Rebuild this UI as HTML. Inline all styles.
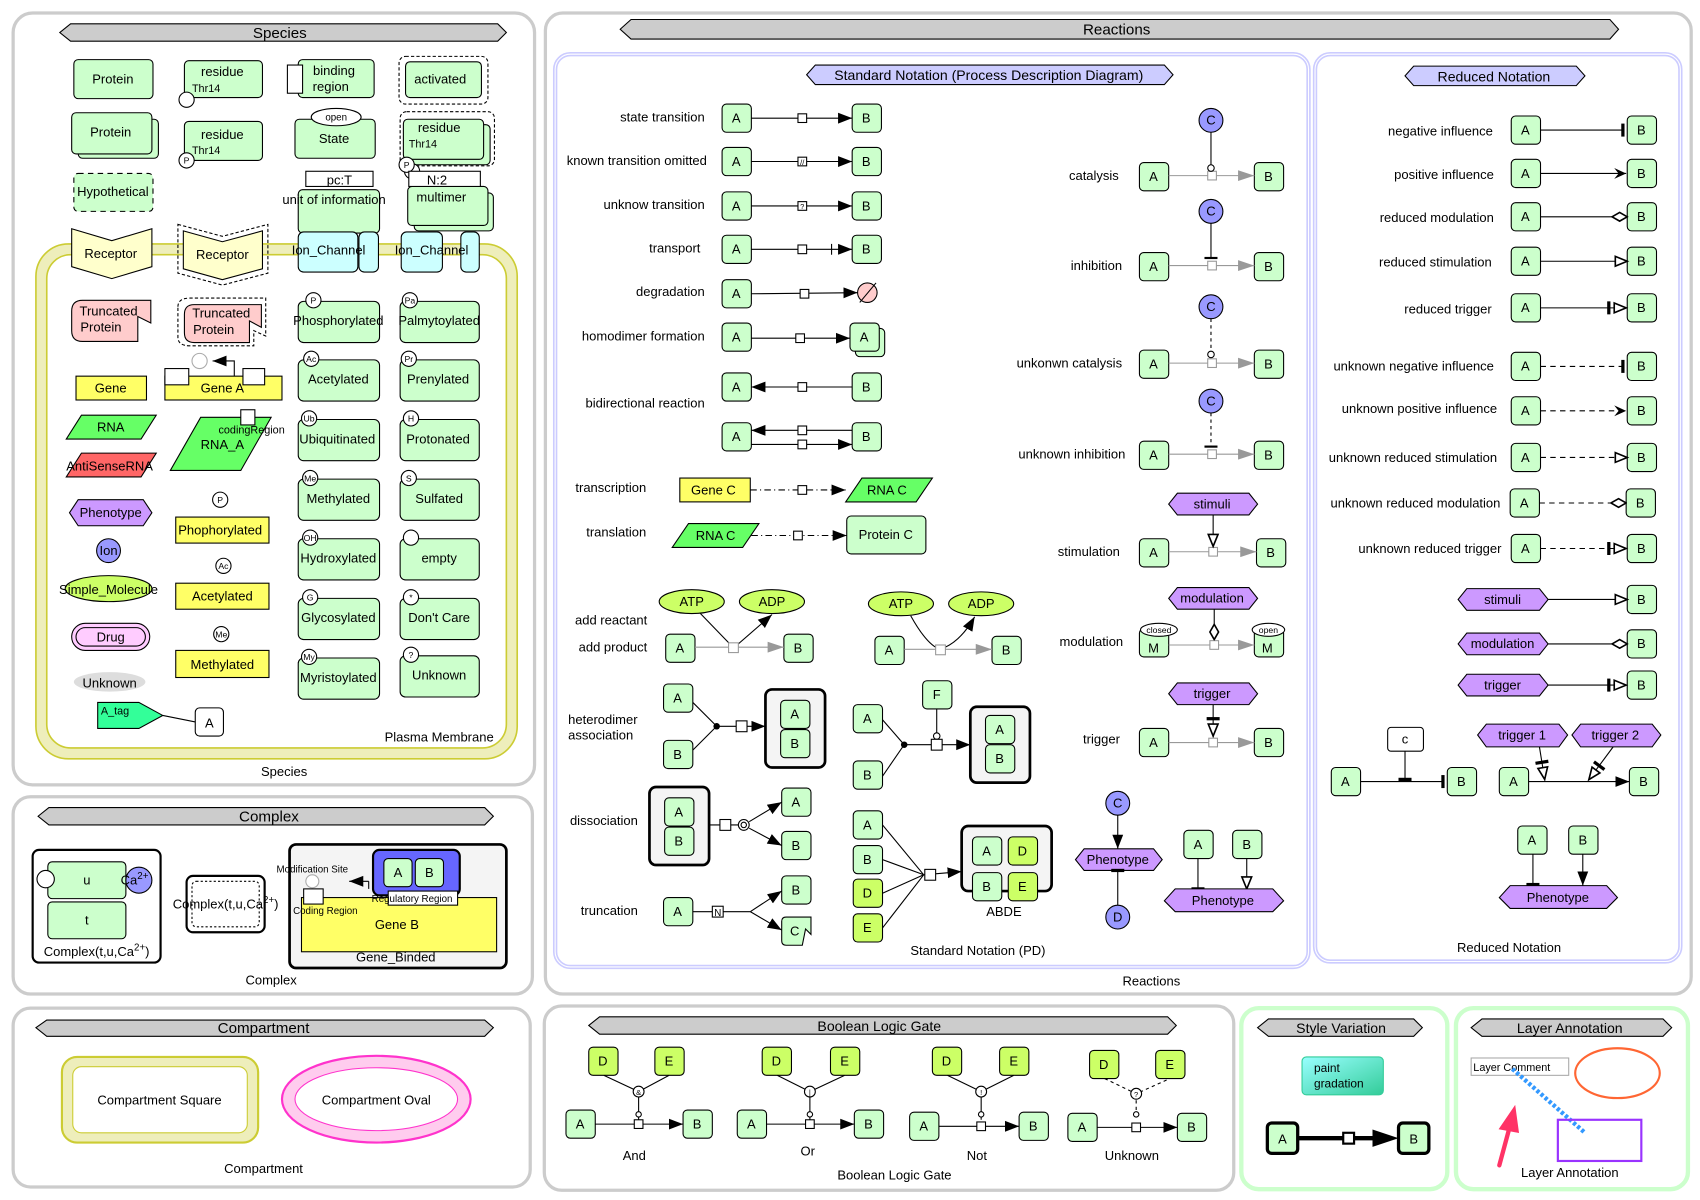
<!DOCTYPE html>
<html><head><meta charset="utf-8"><style>
html,body{margin:0;padding:0;background:#fff;}
svg{display:block;font-family:"Liberation Sans",sans-serif;}
text{font-size:12px;text-anchor:middle;fill:#000;}
.r{text-anchor:end;}
.s{font-size:10px;}
.n{fill:#ccffcc;stroke:#000;stroke-width:1;}
.y{fill:#ffff66;stroke:#000;}
.l{fill:#ccff66;stroke:#000;}
.p{fill:#cc99ff;stroke:#000;}
.c{fill:#9999ff;stroke:#000;}
.w{fill:#fff;stroke:#000;}
.ln{stroke:#000;fill:none;}
.gl{stroke:#999;fill:none;}
.ban{fill:#cccccc;stroke:#000;}
.bb{fill:#ccccff;stroke:#000;}
.pan{fill:#fff;stroke:#ccc;stroke-width:3;}
.cx{fill:#f4f4f4;stroke:#000;stroke-width:2.5;}
.d{stroke-dasharray:5,4;}
</style></head><body>
<svg width="1700" height="1200" viewBox="0 0 1568 1107" xmlns="http://www.w3.org/2000/svg">
<defs>
<marker id="a" markerUnits="userSpaceOnUse" markerWidth="14" markerHeight="12" refX="13" refY="6" orient="auto"><path d="M0,1 L13,6 L0,11 Z" fill="#000"/></marker>
<marker id="ga" markerUnits="userSpaceOnUse" markerWidth="16" markerHeight="12" refX="15" refY="6" orient="auto"><path d="M0,1 L15,6 L0,11 Z" fill="#999"/></marker>
<marker id="o" markerUnits="userSpaceOnUse" markerWidth="14" markerHeight="12" refX="12" refY="6" orient="auto"><path d="M1,1.5 L12,6 L1,10.5 Z" fill="#fff" stroke="#000" stroke-width="1.5"/></marker>
<marker id="b" markerUnits="userSpaceOnUse" markerWidth="6" markerHeight="14" refX="3" refY="7" orient="auto"><path d="M3,1 L3,13" stroke="#000" stroke-width="3"/></marker>
<marker id="dm" markerUnits="userSpaceOnUse" markerWidth="16" markerHeight="12" refX="15" refY="6" orient="auto"><path d="M1,6 L8,2 L15,6 L8,10 Z" fill="#fff" stroke="#000" stroke-width="1.5"/></marker>
<marker id="t" markerUnits="userSpaceOnUse" markerWidth="20" markerHeight="14" refX="19" refY="7" orient="auto"><path d="M2,1 L2,13" stroke="#000" stroke-width="3"/><path d="M7,2.5 L18,7 L7,11.5 Z" fill="#fff" stroke="#000" stroke-width="1.5"/></marker>
<marker id="v" markerUnits="userSpaceOnUse" markerWidth="14" markerHeight="14" refX="13" refY="7" orient="auto"><path d="M2,2 L13,7 L2,12 L6,7 Z" fill="#000"/></marker>
<linearGradient id="gr" x1="0" y1="0" x2="1" y2="1"><stop offset="0" stop-color="#99ffff"/><stop offset="1" stop-color="#33cc99"/></linearGradient>
</defs>

<!-- ================= SPECIES ================= -->
<rect class="pan" x="12" y="12" width="481" height="712" rx="18"/>
<path class="ban" d="M55,30 L65,22 L459,22 L467,30 L459,38 L65,38 Z"/><text x="258" y="35" style="font-size:14px">Species</text>
<text x="262" y="716">Species</text>

<rect x="38" y="230" width="434" height="465" rx="26" fill="none" stroke="#eeeebb" stroke-width="10"/>
<rect x="33" y="225" width="444" height="475" rx="30" fill="none" stroke="#cccc33" stroke-width="1.5"/>
<rect x="43" y="235" width="424" height="455" rx="22" fill="none" stroke="#cccc33" stroke-width="1.5"/>
<text x="405" y="684">Plasma Membrane</text>

<rect class="n" x="68" y="55" width="73" height="36" rx="4"/><text x="104" y="77">Protein</text>
<rect class="n" x="170" y="56" width="72" height="34" rx="4"/><text x="205" y="70">residue</text><text x="190" y="85" class="s">Thr14</text><circle class="w" cx="172" cy="92" r="7"/>
<rect class="n" x="275" y="55" width="70" height="35" rx="4"/><rect class="w" x="265" y="60" width="14" height="26"/><text x="308" y="69">binding</text><text x="305" y="84">region</text>
<rect x="368" y="52" width="82" height="44" rx="6" fill="none" stroke="#000" stroke-dasharray="3,2"/><rect class="n" x="374" y="57" width="70" height="33" rx="4"/><text x="406" y="77">activated</text>
<rect class="n" x="72" y="110" width="74" height="36" rx="4"/><rect class="n" x="66" y="104" width="74" height="38" rx="4"/><text x="102" y="126">Protein</text>
<rect class="n" x="170" y="112" width="72" height="36" rx="4"/><text x="205" y="128">residue</text><text x="190" y="142" class="s">Thr14</text><circle class="w" cx="172" cy="148" r="7"/><text x="172" y="151" style="font-size:8px">P</text>
<rect class="n" x="272" y="110" width="74" height="36" rx="4"/><ellipse class="w" cx="310" cy="108" rx="23" ry="8"/><text x="310" y="111" style="font-size:9px">open</text><text x="308" y="132">State</text>
<rect x="369" y="103" width="87" height="50" rx="6" fill="none" stroke="#000" stroke-dasharray="3,2"/><rect class="n" x="380" y="115" width="72" height="37" rx="4"/><rect class="n" x="372" y="110" width="74" height="37" rx="4"/><text x="405" y="122">residue</text><text x="390" y="136" class="s">Thr14</text><circle class="w" cx="380" cy="158" r="7"/><circle class="w" cx="375" cy="152" r="7"/><text x="375" y="155" style="font-size:8px">P</text>
<rect class="n d" x="68" y="160" width="73" height="35" rx="4"/><text x="104" y="181">Hypothetical</text>
<rect class="n" x="275" y="175" width="75" height="40" rx="4"/><rect class="w" x="282" y="158" width="62" height="14"/><text x="313" y="170">pc:T</text><text x="308" y="188">unit of information</text>
<rect class="n" x="382" y="178" width="73" height="35" rx="4"/><rect class="n" x="376" y="172" width="74" height="36" rx="4"/><rect class="w" x="377" y="158" width="66" height="14"/><text x="403" y="170">N:2</text><text x="407" y="186">multimer</text>

<path d="M66,211 L103,222 L140,211 L140,246 L103,257 L66,246 Z" fill="#ffffcc" stroke="#000"/><text x="102" y="238">Receptor</text>
<path d="M164,207 L205,218 L247,207 L247,252 L205,263 L164,252 Z" fill="none" stroke="#000" stroke-dasharray="3,2"/>
<path d="M169,213 L205,223 L242,213 L242,248 L205,258 L169,248 Z" fill="#ffffcc" stroke="#000"/><text x="205" y="239">Receptor</text>
<rect x="275" y="214" width="55" height="37" rx="5" fill="#ccffff" stroke="#000"/><rect x="331" y="214" width="18" height="37" rx="5" fill="#ccffff" stroke="#000"/><text x="303" y="235">Ion_Channel</text>
<rect x="370" y="214" width="38" height="37" rx="5" fill="#ccffff" stroke="#000"/><rect x="425" y="214" width="17" height="37" rx="5" fill="#ccffff" stroke="#000"/><text x="398" y="235">Ion_Channel</text>

<path d="M66,287 Q66,277 76,277 L139,277 L139,298 L127,292 L127,315 L76,315 Q66,315 66,305 Z" fill="#ffcccc" stroke="#000"/><text x="100" y="291">Truncated</text><text x="93" y="306">Protein</text>
<path d="M164,283 Q164,275 175,275 L245,275 L245,310 L234,305 L234,319 L175,319 Q164,319 164,311 Z" fill="none" stroke="#000" stroke-dasharray="3,2"/>
<path d="M170,290 Q170,281 179,281 L241,281 L241,302 L230,296 L230,316 L179,316 Q170,316 170,307 Z" fill="#ffcccc" stroke="#000"/><text x="204" y="293">Truncated</text><text x="197" y="308">Protein</text>

<rect class="n" x="275" y="278" width="75" height="38" rx="5"/><circle class="w" cx="289" cy="277" r="7"/><text x="289" y="280" style="font-size:8px">P</text><text x="312" y="300">Phosphorylated</text>
<rect class="n" x="369" y="278" width="73" height="38" rx="5"/><circle class="w" cx="378" cy="277" r="7"/><text x="378" y="280" style="font-size:8px">Pa</text><text x="405" y="300">Palmytoylated</text>
<rect class="n" x="275" y="332" width="75" height="38" rx="5"/><circle class="w" cx="287" cy="331" r="7"/><text x="287" y="334" style="font-size:8px">Ac</text><text x="312" y="354">Acetylated</text>
<rect class="n" x="369" y="332" width="73" height="38" rx="5"/><circle class="w" cx="377" cy="331" r="7"/><text x="377" y="334" style="font-size:8px">Pr</text><text x="404" y="354">Prenylated</text>
<rect class="n" x="275" y="387" width="75" height="38" rx="5"/><circle class="w" cx="285" cy="386" r="7"/><text x="285" y="389" style="font-size:8px">Ub</text><text x="311" y="409">Ubiquitinated</text>
<rect class="n" x="369" y="387" width="73" height="38" rx="5"/><circle class="w" cx="379" cy="386" r="7"/><text x="379" y="389" style="font-size:8px">H</text><text x="404" y="409">Protonated</text>
<rect class="n" x="275" y="442" width="75" height="38" rx="5"/><circle class="w" cx="286" cy="441" r="7"/><text x="286" y="444" style="font-size:8px">Me</text><text x="312" y="464">Methylated</text>
<rect class="n" x="369" y="442" width="73" height="38" rx="5"/><circle class="w" cx="377" cy="441" r="7"/><text x="377" y="444" style="font-size:8px">S</text><text x="405" y="464">Sulfated</text>
<rect class="n" x="275" y="497" width="75" height="38" rx="5"/><circle class="w" cx="286" cy="496" r="7"/><text x="286" y="499" style="font-size:8px">OH</text><text x="312" y="519">Hydroxylated</text>
<rect class="n" x="369" y="497" width="73" height="38" rx="5"/><circle class="w" cx="379" cy="496" r="7"/><text x="405" y="519">empty</text>
<rect class="n" x="275" y="552" width="75" height="38" rx="5"/><circle class="w" cx="286" cy="551" r="7"/><text x="286" y="554" style="font-size:8px">G</text><text x="312" y="574">Glycosylated</text>
<rect class="n" x="369" y="552" width="73" height="38" rx="5"/><circle class="w" cx="379" cy="551" r="7"/><text x="379" y="554" style="font-size:8px">*</text><text x="405" y="574">Don't Care</text>
<rect class="n" x="275" y="607" width="75" height="38" rx="5"/><circle class="w" cx="285" cy="606" r="7"/><text x="285" y="609" style="font-size:8px">My</text><text x="312" y="629">Myristoylated</text>
<rect class="n" x="369" y="605" width="73" height="38" rx="5"/><circle class="w" cx="379" cy="604" r="7"/><text x="379" y="607" style="font-size:8px">?</text><text x="405" y="627">Unknown</text>

<rect class="y" x="70" y="347" width="65" height="22"/><text x="102" y="362">Gene</text>
<rect class="y" x="152" y="347" width="108" height="22"/><rect class="w" x="152" y="340" width="22" height="15"/><rect class="w" x="224" y="340" width="20" height="15"/><text x="205" y="362">Gene A</text>
<circle cx="184" cy="333" r="7" fill="#fff" stroke="#aaa"/><path class="ln" d="M216,347 L216,333 L196,333" marker-end="url(#a)"/>
<path d="M75,383 L144,383 L130,405 L61,405 Z" fill="#66ff66" stroke="#000"/><text x="102" y="398">RNA</text>
<path d="M75,418 L144,418 L130,440 L61,440 Z" fill="#ff6666" stroke="#000"/><text x="101" y="434">AntiSenseRNA</text>
<path d="M185,385 L250,385 L222,434 L157,434 Z" fill="#66ff66" stroke="#000"/><rect class="w" x="222" y="378" width="13" height="14"/><text x="232" y="400" class="s">codingRegion</text><text x="205" y="414">RNA_A</text>
<path d="M64,473 L72,461 L132,461 L140,473 L132,485 L72,485 Z" class="p"/><text x="102" y="477">Phenotype</text>
<rect class="y" x="162" y="477" width="86" height="24"/><circle class="w" cx="203" cy="461" r="7"/><text x="203" y="464" style="font-size:8px">P</text><text x="203" y="493">Phophorylated</text>
<circle class="c" cx="100" cy="508" r="11"/><text x="100" y="512">Ion</text>
<rect class="y" x="162" y="538" width="86" height="24"/><circle class="w" cx="206" cy="522" r="7"/><text x="206" y="525" style="font-size:8px">Ac</text><text x="205" y="554">Acetylated</text>
<ellipse class="l" cx="100" cy="543" rx="40" ry="12"/><text x="100" y="548">Simple_Molecule</text>
<rect x="66" y="575" width="72" height="25" rx="12.5" fill="#ffccff" stroke="#000"/><rect x="70" y="579" width="64" height="17" rx="8.5" fill="none" stroke="#000"/><text x="102" y="592">Drug</text>
<rect class="y" x="162" y="600" width="86" height="25"/><circle class="w" cx="204" cy="585" r="7"/><text x="204" y="588" style="font-size:8px">Me</text><text x="205" y="617">Methylated</text>
<ellipse cx="101" cy="629" rx="33" ry="9" fill="#dddddd"/><text x="101" y="634">Unknown</text>
<path d="M90,648 L128,648 L150,660 L128,672 L90,672 Z" fill="#33ff99" stroke="#000"/><text x="106" y="659" class="s">A_tag</text>
<line class="ln" x1="150" y1="660" x2="180" y2="666"/><rect class="w" x="180" y="653" width="26" height="26" rx="4"/><text x="193" y="671">A</text>

<!-- ================= COMPLEX ================= -->
<rect class="pan" x="12" y="735" width="479" height="182" rx="16"/>
<path class="ban" d="M35,753 L45,745 L447,745 L455,753 L447,761 L45,761 Z"/><text x="248" y="758" style="font-size:14px">Complex</text>
<text x="250" y="908">Complex</text>
<rect x="30" y="784" width="118" height="104" rx="6" fill="#fff" stroke="#000" stroke-width="2"/>
<rect class="n" x="44" y="795" width="72" height="34" rx="4"/><text x="80" y="816">u</text>
<rect class="n" x="44" y="832" width="72" height="34" rx="4"/><text x="80" y="853">t</text>
<circle class="w" cx="42" cy="811" r="8"/><circle class="c" cx="128" cy="812" r="12"/><text x="124" y="816">Ca<tspan dy="-5" style="font-size:9px">2+</tspan></text>
<text x="89" y="882">Complex(t,u,Ca<tspan dy="-5" style="font-size:9px">2+</tspan><tspan dy="5">)</tspan></text>
<rect x="172" y="808" width="72" height="52" rx="6" fill="#fff" stroke="#000" stroke-width="2"/><rect x="177" y="813" width="62" height="42" rx="4" fill="none" stroke="#000" stroke-dasharray="2,2"/>
<text x="208" y="838">Complex(t,u,Ca<tspan dy="-5" style="font-size:9px">2+</tspan><tspan dy="5">)</tspan></text>
<rect class="cx" x="267" y="779" width="200" height="114" rx="6"/>
<rect class="y" x="278" y="828" width="180" height="50"/><text x="366" y="857">Gene B</text>
<rect x="344" y="784" width="80" height="42" rx="6" fill="#6666ff" stroke="#000" stroke-width="2"/>
<rect class="n" x="354" y="792" width="26" height="26" rx="4"/><text x="367" y="809">A</text>
<rect class="n" x="383" y="792" width="26" height="26" rx="4"/><text x="396" y="809">B</text>
<text x="288" y="805" style="font-size:9px">Modification Site</text><circle cx="288" cy="813" r="6" fill="#fff" stroke="#aaa"/>
<path class="ln" d="M340,813 L340,820" /><path class="ln" d="M340,813 L322,813" marker-end="url(#a)"/>
<rect class="w" x="280" y="820" width="18" height="14"/><text x="300" y="843" style="font-size:9px">Coding Region</text>
<rect class="w" x="358" y="822" width="64" height="13"/><text x="380" y="832" style="font-size:9px">Regulatory Region</text>
<text x="365" y="887">Gene_Binded</text>

<!-- ================= COMPARTMENT ================= -->
<rect class="pan" x="12" y="930" width="477" height="165" rx="16"/>
<path class="ban" d="M33,948 L43,941 L447,941 L455,948 L447,956 L43,956 Z"/><text x="243" y="953" style="font-size:14px">Compartment</text>
<rect x="57" y="975" width="181" height="79" rx="14" fill="#eeeebb" stroke="#cccc33" stroke-width="2"/><rect x="67" y="984" width="161" height="61" rx="8" fill="#fff" stroke="#cccc33"/>
<text x="147" y="1019">Compartment Square</text>
<ellipse cx="347" cy="1014" rx="87" ry="40" fill="#ffccee" stroke="#ff33cc" stroke-width="2"/><ellipse cx="347" cy="1014" rx="75" ry="29" fill="#fff" stroke="#ff33cc"/>
<text x="347" y="1019">Compartment Oval</text>
<text x="243" y="1082">Compartment</text>

<!-- ================= REACTIONS ================= -->
<rect class="pan" x="503" y="12" width="1057" height="905" rx="16"/>
<path class="ban" d="M572,27 L582,18 L1485,18 L1493,27 L1485,36 L582,36 Z"/><text x="1030" y="32" style="font-size:14px">Reactions</text>
<text x="1062" y="909">Reactions</text>
<rect x="512" y="50" width="695" height="842" rx="14" fill="#fff" stroke="#ccccff" stroke-width="4"/><rect x="512" y="50" width="695" height="842" rx="14" fill="none" stroke="#fff" stroke-width="1"/>
<path class="bb" d="M744,69 L752,60 L1074,60 L1082,69 L1074,78 L752,78 Z"/><text x="912" y="74" style="font-size:13px">Standard Notation (Process Description Diagram)</text>
<text x="902" y="881">Standard Notation (PD)</text>
<rect x="1213" y="50" width="337" height="837" rx="14" fill="#fff" stroke="#ccccff" stroke-width="4"/><rect x="1213" y="50" width="337" height="837" rx="14" fill="none" stroke="#fff" stroke-width="1"/>
<path class="bb" d="M1296,70 L1304,61 L1454,61 L1462,70 L1454,79 L1304,79 Z"/><text x="1378" y="75" style="font-size:13px">Reduced Notation</text>
<text x="1392" y="878">Reduced Notation</text>

<!-- left standard column -->
<g>
<text class="r" x="650" y="112">state transition</text>
<rect class="n" x="666" y="96" width="27" height="26" rx="4"/><text x="679" y="113">A</text>
<line class="ln" x1="693" y1="109" x2="786" y2="109" marker-end="url(#a)"/><rect class="w" x="736" y="105" width="8" height="8"/>
<rect class="n" x="786" y="96" width="27" height="26" rx="4"/><text x="799" y="113">B</text>

<text class="r" x="652" y="152">known transition omitted</text>
<rect class="n" x="666" y="136" width="27" height="26" rx="4"/><text x="679" y="153">A</text>
<line class="ln" x1="693" y1="149" x2="786" y2="149" marker-end="url(#a)"/><rect class="w" x="736" y="145" width="8" height="8"/><text x="740" y="152" style="font-size:7px">//</text>
<rect class="n" x="786" y="136" width="27" height="26" rx="4"/><text x="799" y="153">B</text>

<text class="r" x="650" y="193">unknow transition</text>
<rect class="n" x="666" y="177" width="27" height="26" rx="4"/><text x="679" y="194">A</text>
<line class="ln" x1="693" y1="190" x2="786" y2="190" marker-end="url(#a)"/><rect class="w" x="736" y="186" width="8" height="8"/><text x="740" y="193" style="font-size:7px">?</text>
<rect class="n" x="786" y="177" width="27" height="26" rx="4"/><text x="799" y="194">B</text>

<text class="r" x="646" y="233">transport</text>
<rect class="n" x="666" y="217" width="27" height="26" rx="4"/><text x="679" y="234">A</text>
<line class="ln" x1="693" y1="230" x2="786" y2="230" marker-end="url(#a)"/><rect class="w" x="736" y="226" width="8" height="8"/><line class="ln" x1="767" y1="225" x2="767" y2="235"/>
<rect class="n" x="786" y="217" width="27" height="26" rx="4"/><text x="799" y="234">B</text>

<text class="r" x="650" y="273">degradation</text>
<rect class="n" x="666" y="258" width="27" height="26" rx="4"/><text x="679" y="275">A</text>
<line class="ln" x1="693" y1="271" x2="791" y2="270" marker-end="url(#a)"/><rect class="w" x="738" y="267" width="8" height="8"/>
<circle cx="800" cy="270" r="9" fill="#ffcccc" stroke="#000"/><line x1="793" y1="279" x2="808" y2="261" stroke="#000"/>

<text class="r" x="650" y="314">homodimer formation</text>
<rect class="n" x="666" y="298" width="27" height="26" rx="4"/><text x="679" y="315">A</text>
<line class="ln" x1="693" y1="312" x2="784" y2="312" marker-end="url(#a)"/><rect class="w" x="734" y="308" width="8" height="8"/>
<rect class="n" x="789" y="303" width="27" height="26" rx="4"/><rect class="n" x="784" y="298" width="27" height="26" rx="4"/><text x="797" y="315">A</text>

<text class="r" x="650" y="376">bidirectional reaction</text>
<rect class="n" x="666" y="344" width="27" height="26" rx="4"/><text x="679" y="361">A</text>
<line class="ln" x1="786" y1="357" x2="693" y2="357" marker-end="url(#a)"/><rect class="w" x="736" y="353" width="8" height="8"/>
<rect class="n" x="786" y="344" width="27" height="26" rx="4"/><text x="799" y="361">B</text>
<rect class="n" x="666" y="390" width="27" height="26" rx="4"/><text x="679" y="407">A</text>
<line class="ln" x1="786" y1="397" x2="693" y2="397" marker-end="url(#a)"/><line class="ln" x1="693" y1="410" x2="786" y2="410" marker-end="url(#a)"/>
<rect class="w" x="736" y="393" width="8" height="8"/><rect class="w" x="736" y="406" width="8" height="8"/>
<rect class="n" x="786" y="390" width="27" height="26" rx="4"/><text x="799" y="407">B</text>

<text class="r" x="596" y="454">transcription</text>
<rect class="y" x="627" y="441" width="65" height="22"/><text x="658" y="456">Gene C</text>
<line class="ln" x1="692" y1="452" x2="780" y2="452" stroke-dasharray="6,3,1,3" marker-end="url(#a)"/><rect class="w" x="736" y="448" width="8" height="8"/>
<path d="M795,441 L860,441 L845,463 L780,463 Z" fill="#66ff66" stroke="#000"/><text x="818" y="456">RNA C</text>

<text class="r" x="596" y="495">translation</text>
<path d="M635,483 L700,483 L685,505 L620,505 Z" fill="#66ff66" stroke="#000"/><text x="660" y="498">RNA C</text>
<line class="ln" x1="693" y1="494" x2="781" y2="494" stroke-dasharray="6,3,1,3" marker-end="url(#a)"/><rect class="w" x="732" y="490" width="8" height="8"/>
<rect class="n" x="781" y="476" width="73" height="35" rx="4"/><text x="817" y="497">Protein C</text>

<text class="r" x="597" y="576">add reactant</text>
<text class="r" x="597" y="601">add product</text>
<ellipse class="l" cx="638" cy="555" rx="30" ry="11"/><text x="638" y="559">ATP</text>
<ellipse class="l" cx="712" cy="555" rx="30" ry="11"/><text x="712" y="559">ADP</text>
<rect class="n" x="614" y="585" width="27" height="26" rx="4"/><text x="627" y="602">A</text>
<rect class="n" x="723" y="585" width="27" height="26" rx="4"/><text x="736" y="602">B</text>
<line class="gl" x1="641" y1="597" x2="723" y2="597" marker-end="url(#ga)"/>
<line class="ln" x1="646" y1="566" x2="676" y2="597"/><line class="ln" x1="681" y1="594" x2="712" y2="567" marker-end="url(#a)"/>
<rect x="672" y="593" width="9" height="9" fill="#fff" stroke="#999"/>

<ellipse class="l" cx="831" cy="557" rx="30" ry="11"/><text x="831" y="561">ATP</text>
<ellipse class="l" cx="905" cy="557" rx="30" ry="11"/><text x="905" y="561">ADP</text>
<rect class="n" x="807" y="587" width="27" height="26" rx="4"/><text x="820" y="604">A</text>
<rect class="n" x="915" y="587" width="27" height="26" rx="4"/><text x="928" y="604">B</text>
<line class="gl" x1="834" y1="599" x2="915" y2="599" marker-end="url(#ga)"/>
<path class="ln" d="M840,568 Q855,595 867,599"/><path class="ln" d="M872,597 Q887,590 899,569" marker-end="url(#a)"/>
<rect x="863" y="595" width="9" height="9" fill="#fff" stroke="#999"/>

<text x="524" y="668" style="text-anchor:start">heterodimer</text><text x="524" y="682" style="text-anchor:start">association</text>
<rect class="n" x="612" y="631" width="27" height="26" rx="4"/><text x="625" y="648">A</text>
<rect class="n" x="612" y="683" width="27" height="26" rx="4"/><text x="625" y="700">B</text>
<path class="ln" d="M639,648 L661,670 L639,692"/><circle cx="661" cy="670" r="3"/>
<line class="ln" x1="661" y1="670" x2="706" y2="670" marker-end="url(#a)"/><rect class="w" x="679" y="665" width="10" height="10"/>
<rect class="cx" x="706" y="636" width="55" height="72" rx="6"/>
<rect class="n" x="720" y="646" width="27" height="26" rx="4"/><text x="733" y="663">A</text>
<rect class="n" x="720" y="673" width="27" height="26" rx="4"/><text x="733" y="690">B</text>

<rect class="n" x="787" y="650" width="27" height="26" rx="4"/><text x="800" y="667">A</text>
<rect class="n" x="787" y="702" width="27" height="26" rx="4"/><text x="800" y="719">B</text>
<rect class="n" x="851" y="628" width="27" height="26" rx="4"/><text x="864" y="645">F</text>
<path class="ln" d="M814,664 L834,687 L814,716"/><circle cx="834" cy="687" r="3"/>
<line class="ln" x1="834" y1="687" x2="895" y2="687" marker-end="url(#a)"/><line class="ln" x1="864" y1="654" x2="864" y2="676"/><circle class="w" cx="864" cy="679" r="3"/><rect class="w" x="859" y="682" width="10" height="10"/>
<rect class="cx" x="895" y="652" width="55" height="70" rx="6"/>
<rect class="n" x="909" y="660" width="27" height="26" rx="4"/><text x="922" y="677">A</text>
<rect class="n" x="909" y="687" width="27" height="26" rx="4"/><text x="922" y="704">B</text>

<text x="557" y="761">dissociation</text>
<rect class="cx" x="599" y="726" width="55" height="72" rx="6"/>
<rect class="n" x="613" y="736" width="27" height="26" rx="4"/><text x="626" y="753">A</text>
<rect class="n" x="613" y="763" width="27" height="26" rx="4"/><text x="626" y="780">B</text>
<line class="ln" x1="654" y1="761" x2="681" y2="761"/><rect class="w" x="664" y="756" width="10" height="10"/>
<circle class="w" cx="686" cy="761" r="5"/><circle class="w" cx="686" cy="761" r="2.5"/>
<line class="ln" x1="691" y1="758" x2="721" y2="740" marker-end="url(#a)"/><line class="ln" x1="691" y1="764" x2="721" y2="780" marker-end="url(#a)"/>
<rect class="n" x="721" y="727" width="27" height="26" rx="4"/><text x="734" y="744">A</text>
<rect class="n" x="721" y="767" width="27" height="26" rx="4"/><text x="734" y="784">B</text>

<text x="562" y="844">truncation</text>
<rect class="n" x="612" y="828" width="27" height="26" rx="4"/><text x="625" y="845">A</text>
<line class="ln" x1="639" y1="841" x2="692" y2="841"/><rect class="w" x="657" y="836" width="10" height="10"/><text x="662" y="845" style="font-size:9px">N</text>
<line class="ln" x1="692" y1="841" x2="721" y2="822" marker-end="url(#a)"/><line class="ln" x1="692" y1="841" x2="721" y2="858" marker-end="url(#a)"/>
<rect class="n" x="721" y="808" width="27" height="26" rx="4"/><text x="734" y="825">B</text>
<path class="n" d="M725,846 L748,846 L748,862 L743,857 L740,872 L725,872 Q721,872 721,868 L721,850 Q721,846 725,846 Z"/><text x="733" y="863">C</text>

<rect class="n" x="787" y="748" width="27" height="26" rx="4"/><text x="800" y="765">A</text>
<rect class="n" x="787" y="780" width="27" height="26" rx="4"/><text x="800" y="797">B</text>
<rect class="l" x="787" y="811" width="27" height="26" rx="4"/><text x="800" y="828">D</text>
<rect class="l" x="787" y="843" width="27" height="26" rx="4"/><text x="800" y="860">E</text>
<path class="ln" d="M814,761 L852,807 M814,793 L852,807 M814,824 L852,807 M814,856 L852,807"/>
<line class="ln" x1="852" y1="807" x2="887" y2="804" marker-end="url(#a)"/><rect class="w" x="853" y="802" width="10" height="10"/>
<rect class="cx" x="887" y="762" width="83" height="60" rx="6"/>
<rect class="n" x="897" y="772" width="27" height="26" rx="4"/><text x="910" y="789">A</text>
<rect class="l" x="930" y="772" width="27" height="26" rx="4"/><text x="943" y="789">D</text>
<rect class="n" x="897" y="805" width="27" height="26" rx="4"/><text x="910" y="822">B</text>
<rect class="l" x="930" y="805" width="27" height="26" rx="4"/><text x="943" y="822">E</text>
<text x="926" y="845">ABDE</text>
</g>

<!-- right standard column -->
<g>
<text class="r" x="1032" y="166">catalysis</text>
<rect class="n" x="1051" y="150" width="27" height="26" rx="4"/><text x="1064" y="167">A</text>
<rect class="n" x="1157" y="150" width="27" height="26" rx="4"/><text x="1170" y="167">B</text>
<line class="gl" x1="1078" y1="162" x2="1157" y2="162" marker-end="url(#ga)"/><rect x="1114" y="158" width="8" height="8" fill="#fff" stroke="#999"/>
<circle class="c" cx="1117" cy="111" r="11"/><text x="1117" y="115">C</text><line class="ln" x1="1117" y1="122" x2="1117" y2="153"/><circle class="w" cx="1117" cy="155" r="3"/>

<text class="r" x="1035" y="249">inhibition</text>
<rect class="n" x="1051" y="233" width="27" height="26" rx="4"/><text x="1064" y="250">A</text>
<rect class="n" x="1157" y="233" width="27" height="26" rx="4"/><text x="1170" y="250">B</text>
<line class="gl" x1="1078" y1="245" x2="1157" y2="245" marker-end="url(#ga)"/><rect x="1114" y="241" width="8" height="8" fill="#fff" stroke="#999"/>
<circle class="c" cx="1117" cy="195" r="11"/><text x="1117" y="199">C</text><line class="ln" x1="1117" y1="206" x2="1117" y2="238"/><line class="ln" x1="1111" y1="238" x2="1123" y2="238" stroke-width="2"/>

<text class="r" x="1035" y="339">unkonwn catalysis</text>
<rect class="n" x="1051" y="323" width="27" height="26" rx="4"/><text x="1064" y="340">A</text>
<rect class="n" x="1157" y="323" width="27" height="26" rx="4"/><text x="1170" y="340">B</text>
<line class="gl" x1="1078" y1="335" x2="1157" y2="335" marker-end="url(#ga)"/><rect x="1114" y="331" width="8" height="8" fill="#fff" stroke="#999"/>
<circle class="c" cx="1117" cy="283" r="11"/><text x="1117" y="287">C</text><line class="ln" x1="1117" y1="294" x2="1117" y2="325" stroke-dasharray="3,3"/><circle class="w" cx="1117" cy="327" r="3"/>

<text class="r" x="1038" y="423">unknown inhibition</text>
<rect class="n" x="1051" y="407" width="27" height="26" rx="4"/><text x="1064" y="424">A</text>
<rect class="n" x="1157" y="407" width="27" height="26" rx="4"/><text x="1170" y="424">B</text>
<line class="gl" x1="1078" y1="419" x2="1157" y2="419" marker-end="url(#ga)"/><rect x="1114" y="415" width="8" height="8" fill="#fff" stroke="#999"/>
<circle class="c" cx="1117" cy="370" r="11"/><text x="1117" y="374">C</text><line class="ln" x1="1117" y1="381" x2="1117" y2="412" stroke-dasharray="3,3"/><line class="ln" x1="1111" y1="412" x2="1123" y2="412" stroke-width="2"/>

<text class="r" x="1033" y="513">stimulation</text>
<rect class="n" x="1051" y="497" width="27" height="26" rx="4"/><text x="1064" y="514">A</text>
<rect class="n" x="1159" y="497" width="27" height="26" rx="4"/><text x="1172" y="514">B</text>
<line class="gl" x1="1078" y1="509" x2="1159" y2="509" marker-end="url(#ga)"/><rect x="1115" y="505" width="8" height="8" fill="#fff" stroke="#999"/>
<path class="p" d="M1078,465 L1086,455 L1152,455 L1160,465 L1152,475 L1086,475 Z"/><text x="1118" y="469">stimuli</text>
<line class="ln" x1="1119" y1="475" x2="1119" y2="504" marker-end="url(#o)"/>

<text class="r" x="1036" y="596">modulation</text>
<rect class="n" x="1051" y="580" width="27" height="26" rx="4"/><text x="1064" y="602">M</text><ellipse class="w" cx="1069" cy="581" rx="17" ry="6"/><text x="1069" y="584" style="font-size:8px">closed</text>
<rect class="n" x="1157" y="580" width="27" height="26" rx="4"/><text x="1169" y="602">M</text><ellipse class="w" cx="1170" cy="581" rx="15" ry="6"/><text x="1170" y="584" style="font-size:8px">open</text>
<line class="gl" x1="1078" y1="595" x2="1157" y2="595" marker-end="url(#ga)"/><rect x="1116" y="591" width="8" height="8" fill="#fff" stroke="#999"/>
<path class="p" d="M1078,552 L1086,542 L1152,542 L1160,552 L1152,562 L1086,562 Z"/><text x="1118" y="556">modulation</text>
<line class="ln" x1="1120" y1="562" x2="1120" y2="590" marker-end="url(#dm)"/>

<text class="r" x="1033" y="686">trigger</text>
<rect class="n" x="1051" y="672" width="27" height="26" rx="4"/><text x="1064" y="689">A</text>
<rect class="n" x="1157" y="672" width="27" height="26" rx="4"/><text x="1170" y="689">B</text>
<line class="gl" x1="1078" y1="685" x2="1157" y2="685" marker-end="url(#ga)"/><rect x="1115" y="681" width="8" height="8" fill="#fff" stroke="#999"/>
<path class="p" d="M1078,640 L1086,630 L1152,630 L1160,640 L1152,650 L1086,650 Z"/><text x="1118" y="644">trigger</text>
<line class="ln" x1="1119" y1="650" x2="1119" y2="680" marker-end="url(#t)"/>

<circle class="c" cx="1031" cy="741" r="11"/><text x="1031" y="745">C</text><line class="ln" x1="1031" y1="752" x2="1031" y2="783" marker-end="url(#a)"/>
<path class="p" d="M992,793 L1000,783 L1064,783 L1072,793 L1064,803 L1000,803 Z"/><text x="1031" y="797">Phenotype</text>
<line class="ln" x1="1031" y1="835" x2="1031" y2="803" marker-end="url(#b)"/><circle class="c" cx="1031" cy="846" r="11"/><text x="1031" y="850">D</text>
<rect class="n" x="1092" y="766" width="27" height="26" rx="4"/><text x="1105" y="783">A</text>
<rect class="n" x="1137" y="766" width="27" height="26" rx="4"/><text x="1150" y="783">B</text>
<line class="ln" x1="1105" y1="792" x2="1105" y2="820" marker-end="url(#b)"/><line class="ln" x1="1150" y1="792" x2="1150" y2="820" marker-end="url(#o)"/>
<path class="p" d="M1074,831 L1084,820 L1174,820 L1184,831 L1174,841 L1084,841 Z"/><text x="1128" y="835">Phenotype</text>
</g>

<!-- reduced notation -->
<g>
<text class="r" x="1377" y="125">negative influence</text>
<rect class="n" x="1394" y="107" width="27" height="26" rx="4"/><text x="1407" y="124">A</text>
<rect class="n" x="1501" y="107" width="27" height="26" rx="4"/><text x="1514" y="124">B</text>
<line class="ln" x1="1421" y1="120" x2="1497" y2="120" marker-end="url(#b)"/>

<text class="r" x="1378" y="165">positive influence</text>
<rect class="n" x="1394" y="147" width="27" height="26" rx="4"/><text x="1407" y="164">A</text>
<rect class="n" x="1501" y="147" width="27" height="26" rx="4"/><text x="1514" y="164">B</text>
<line class="ln" x1="1421" y1="160" x2="1500" y2="160" marker-end="url(#v)"/>

<text class="r" x="1378" y="205">reduced modulation</text>
<rect class="n" x="1394" y="187" width="27" height="26" rx="4"/><text x="1407" y="204">A</text>
<rect class="n" x="1501" y="187" width="27" height="26" rx="4"/><text x="1514" y="204">B</text>
<line class="ln" x1="1421" y1="200" x2="1501" y2="200" marker-end="url(#dm)"/>

<text class="r" x="1376" y="246">reduced stimulation</text>
<rect class="n" x="1394" y="228" width="27" height="26" rx="4"/><text x="1407" y="245">A</text>
<rect class="n" x="1501" y="228" width="27" height="26" rx="4"/><text x="1514" y="245">B</text>
<line class="ln" x1="1421" y1="241" x2="1501" y2="241" marker-end="url(#o)"/>

<text class="r" x="1376" y="289">reduced trigger</text>
<rect class="n" x="1394" y="271" width="27" height="26" rx="4"/><text x="1407" y="288">A</text>
<rect class="n" x="1501" y="271" width="27" height="26" rx="4"/><text x="1514" y="288">B</text>
<line class="ln" x1="1421" y1="284" x2="1501" y2="284" marker-end="url(#t)"/>

<text class="r" x="1378" y="342">unknown negative influence</text>
<rect class="n" x="1394" y="325" width="27" height="26" rx="4"/><text x="1407" y="342">A</text>
<rect class="n" x="1501" y="325" width="27" height="26" rx="4"/><text x="1514" y="342">B</text>
<line class="ln d" x1="1421" y1="338" x2="1497" y2="338" marker-end="url(#b)"/>

<text class="r" x="1381" y="381">unknown positive influence</text>
<rect class="n" x="1394" y="366" width="27" height="26" rx="4"/><text x="1407" y="383">A</text>
<rect class="n" x="1501" y="366" width="27" height="26" rx="4"/><text x="1514" y="383">B</text>
<line class="ln d" x1="1421" y1="379" x2="1500" y2="379" marker-end="url(#v)"/>

<text class="r" x="1381" y="426">unknown reduced stimulation</text>
<rect class="n" x="1394" y="409" width="27" height="26" rx="4"/><text x="1407" y="426">A</text>
<rect class="n" x="1501" y="409" width="27" height="26" rx="4"/><text x="1514" y="426">B</text>
<line class="ln d" x1="1421" y1="422" x2="1501" y2="422" marker-end="url(#o)"/>

<text class="r" x="1384" y="468">unknown reduced modulation</text>
<rect class="n" x="1393" y="451" width="27" height="26" rx="4"/><text x="1406" y="468">A</text>
<rect class="n" x="1500" y="451" width="27" height="26" rx="4"/><text x="1513" y="468">B</text>
<line class="ln d" x1="1420" y1="464" x2="1500" y2="464" marker-end="url(#dm)"/>

<text class="r" x="1385" y="510">unknown reduced trigger</text>
<rect class="n" x="1394" y="493" width="27" height="26" rx="4"/><text x="1407" y="510">A</text>
<rect class="n" x="1501" y="493" width="27" height="26" rx="4"/><text x="1514" y="510">B</text>
<line class="ln d" x1="1421" y1="506" x2="1501" y2="506" marker-end="url(#t)"/>

<path class="p" d="M1345,553 L1353,543 L1420,543 L1428,553 L1420,563 L1353,563 Z"/><text x="1386" y="557">stimuli</text>
<rect class="n" x="1501" y="540" width="27" height="26" rx="4"/><text x="1514" y="557">B</text>
<line class="ln" x1="1428" y1="553" x2="1501" y2="553" marker-end="url(#o)"/>
<path class="p" d="M1345,594 L1353,584 L1420,584 L1428,594 L1420,604 L1353,604 Z"/><text x="1386" y="598">modulation</text>
<rect class="n" x="1501" y="581" width="27" height="26" rx="4"/><text x="1514" y="598">B</text>
<line class="ln" x1="1428" y1="594" x2="1501" y2="594" marker-end="url(#dm)"/>
<path class="p" d="M1345,632 L1353,622 L1420,622 L1428,632 L1420,642 L1353,642 Z"/><text x="1386" y="636">trigger</text>
<rect class="n" x="1501" y="619" width="27" height="26" rx="4"/><text x="1514" y="636">B</text>
<line class="ln" x1="1428" y1="632" x2="1501" y2="632" marker-end="url(#t)"/>

<rect class="w" x="1280" y="671" width="33" height="22" rx="3"/><text x="1296" y="686">c</text>
<rect class="n" x="1228" y="708" width="27" height="26" rx="4"/><text x="1241" y="725">A</text>
<rect class="n" x="1335" y="708" width="27" height="26" rx="4"/><text x="1348" y="725">B</text>
<line class="ln" x1="1255" y1="721" x2="1331" y2="721" marker-end="url(#b)"/>
<line class="ln" x1="1296" y1="693" x2="1296" y2="719" marker-end="url(#b)"/>

<path class="p" d="M1363,678 L1371,668 L1438,668 L1446,678 L1438,689 L1371,689 Z"/><text x="1404" y="682">trigger 1</text>
<path class="p" d="M1450,678 L1458,668 L1524,668 L1532,678 L1524,689 L1458,689 Z"/><text x="1490" y="682">trigger 2</text>
<rect class="n" x="1383" y="708" width="27" height="26" rx="4"/><text x="1396" y="725">A</text>
<rect class="n" x="1503" y="708" width="27" height="26" rx="4"/><text x="1516" y="725">B</text>
<line class="ln" x1="1410" y1="721" x2="1503" y2="721" marker-end="url(#a)"/>
<line class="ln" x1="1420" y1="689" x2="1425" y2="720" marker-end="url(#t)"/>
<line class="ln" x1="1488" y1="689" x2="1465" y2="720" marker-end="url(#t)"/>

<rect class="n" x="1400" y="762" width="27" height="26" rx="4"/><text x="1413" y="779">A</text>
<rect class="n" x="1447" y="762" width="27" height="26" rx="4"/><text x="1460" y="779">B</text>
<line class="ln" x1="1414" y1="788" x2="1414" y2="816" marker-end="url(#b)"/><line class="ln" x1="1460" y1="788" x2="1460" y2="817" marker-end="url(#a)"/>
<path class="p" d="M1383,828 L1393,817 L1482,817 L1492,828 L1482,838 L1393,838 Z"/><text x="1437" y="832">Phenotype</text>
</g>

<!-- ================= BOOLEAN ================= -->
<rect class="pan" x="502" y="928" width="636" height="170" rx="16"/>
<path class="ban" d="M543,946 L553,938 L1077,938 L1085,946 L1077,954 L553,954 Z"/><text x="811" y="951" style="font-size:13px">Boolean Logic Gate</text>
<text x="825" y="1088">Boolean Logic Gate</text>

<g>
<rect class="l" x="543" y="966" width="27" height="26" rx="4"/><text x="556" y="983">D</text>
<rect class="l" x="604" y="966" width="27" height="26" rx="4"/><text x="617" y="983">E</text>
<path class="ln" d="M557,992 L589,1007 L617,992 M589,1007 L589,1033"/><circle class="w" cx="589" cy="1007" r="5"/><text x="589" y="1010" style="font-size:7px">&amp;</text><circle class="w" cx="589" cy="1028" r="2.5"/>
<rect class="n" x="522" y="1024" width="27" height="26" rx="4"/><text x="535" y="1041">A</text>
<rect class="n" x="630" y="1024" width="27" height="26" rx="4"/><text x="643" y="1041">B</text>
<line class="ln" x1="549" y1="1037" x2="630" y2="1037" marker-end="url(#a)"/><rect class="w" x="585" y="1033" width="8" height="8"/>
<text x="585" y="1070">And</text>
</g>
<g>
<rect class="l" x="703" y="966" width="27" height="26" rx="4"/><text x="716" y="983">D</text>
<rect class="l" x="766" y="966" width="27" height="26" rx="4"/><text x="779" y="983">E</text>
<path class="ln" d="M717,992 L747,1007 L779,992 M747,1007 L747,1033"/><circle class="w" cx="747" cy="1007" r="5"/><text x="747" y="1010" style="font-size:7px">|</text><circle class="w" cx="747" cy="1028" r="2.5"/>
<rect class="n" x="680" y="1024" width="27" height="26" rx="4"/><text x="693" y="1041">A</text>
<rect class="n" x="788" y="1024" width="27" height="26" rx="4"/><text x="801" y="1041">B</text>
<line class="ln" x1="707" y1="1037" x2="788" y2="1037" marker-end="url(#a)"/><rect class="w" x="743" y="1033" width="8" height="8"/>
<text x="745" y="1066">Or</text>
</g>
<g>
<rect class="l" x="860" y="966" width="27" height="26" rx="4"/><text x="873" y="983">D</text>
<rect class="l" x="922" y="966" width="27" height="26" rx="4"/><text x="935" y="983">E</text>
<path class="ln" d="M874,992 L905,1007 L935,992 M905,1007 L905,1033"/><circle class="w" cx="905" cy="1007" r="5"/><text x="905" y="1010" style="font-size:7px">!</text><circle class="w" cx="905" cy="1028" r="2.5"/>
<rect class="n" x="839" y="1026" width="27" height="26" rx="4"/><text x="852" y="1043">A</text>
<rect class="n" x="940" y="1026" width="27" height="26" rx="4"/><text x="953" y="1043">B</text>
<line class="ln" x1="866" y1="1039" x2="940" y2="1039" marker-end="url(#a)"/><rect class="w" x="901" y="1035" width="8" height="8"/>
<text x="901" y="1070">Not</text>
</g>
<g>
<rect class="l" x="1005" y="969" width="27" height="26" rx="4"/><text x="1018" y="986">D</text>
<rect class="l" x="1066" y="969" width="27" height="26" rx="4"/><text x="1079" y="986">E</text>
<path class="ln" d="M1019,995 L1048,1009 L1079,995 M1048,1009 L1048,1033" stroke-dasharray="3,3"/><circle class="w" cx="1048" cy="1009" r="5"/><text x="1048" y="1012" style="font-size:7px">?</text><circle class="w" cx="1048" cy="1028" r="2.5"/>
<rect class="n" x="985" y="1027" width="27" height="26" rx="4"/><text x="998" y="1044">A</text>
<rect class="n" x="1086" y="1027" width="27" height="26" rx="4"/><text x="1099" y="1044">B</text>
<line class="ln" x1="1012" y1="1040" x2="1086" y2="1040" marker-end="url(#a)"/><rect class="w" x="1044" y="1036" width="8" height="8"/>
<text x="1044" y="1070">Unknown</text>
</g>

<!-- ================= STYLE VARIATION ================= -->
<rect x="1145" y="930" width="190" height="167" rx="16" fill="#fff" stroke="#ccffcc" stroke-width="4"/>
<path class="ban" d="M1160,948 L1170,940 L1304,940 L1312,948 L1304,956 L1170,956 Z"/><text x="1237" y="953" style="font-size:13px">Style Variation</text>
<rect x="1201" y="975" width="75" height="35" rx="4" fill="url(#gr)" stroke="#33cc99"/>
<text x="1212" y="989" style="text-anchor:start;font-size:11px">paint</text>
<text x="1212" y="1003" style="text-anchor:start;font-size:11px">gradation</text>
<rect class="n" x="1169" y="1036" width="28" height="28" rx="4" style="stroke-width:3"/><text x="1183" y="1055">A</text>
<rect class="n" x="1290" y="1036" width="28" height="28" rx="4" style="stroke-width:3"/><text x="1304" y="1055">B</text>
<line x1="1197" y1="1050" x2="1270" y2="1050" stroke="#000" stroke-width="4"/><path d="M1266,1042 L1290,1050 L1266,1058 Z" fill="#000"/><rect x="1239" y="1045" width="10" height="10" fill="#fff" stroke="#000" stroke-width="2"/>

<!-- ================= LAYER ANNOTATION ================= -->
<rect x="1343" y="930" width="214" height="167" rx="16" fill="#fff" stroke="#ccffcc" stroke-width="4"/>
<path class="ban" d="M1357,948 L1367,940 L1534,940 L1542,948 L1534,956 L1367,956 Z"/><text x="1448" y="953" style="font-size:13px">Layer Annotation</text>
<rect x="1357" y="976" width="90" height="16" fill="#fff" stroke="#aaa"/><text x="1359" y="988" style="text-anchor:start;font-size:10px">Layer Comment</text>
<ellipse cx="1492" cy="990" rx="39" ry="23" fill="none" stroke="#ff6633" stroke-width="2"/>
<line x1="1395" y1="986" x2="1462" y2="1045" stroke="#3399ff" stroke-width="4" stroke-dasharray="3,2"/>
<rect x="1437" y="1033" width="77" height="38" fill="none" stroke="#9933ff" stroke-width="2"/>
<line x1="1383" y1="1075" x2="1393" y2="1038" stroke="#ff3366" stroke-width="4" stroke-linecap="round"/><path d="M1384,1041 L1397,1022 L1400,1044 Z" fill="#ff3366" stroke="#ff3366" stroke-width="2"/>
<text x="1448" y="1086">Layer Annotation</text>
</svg>
</body></html>
